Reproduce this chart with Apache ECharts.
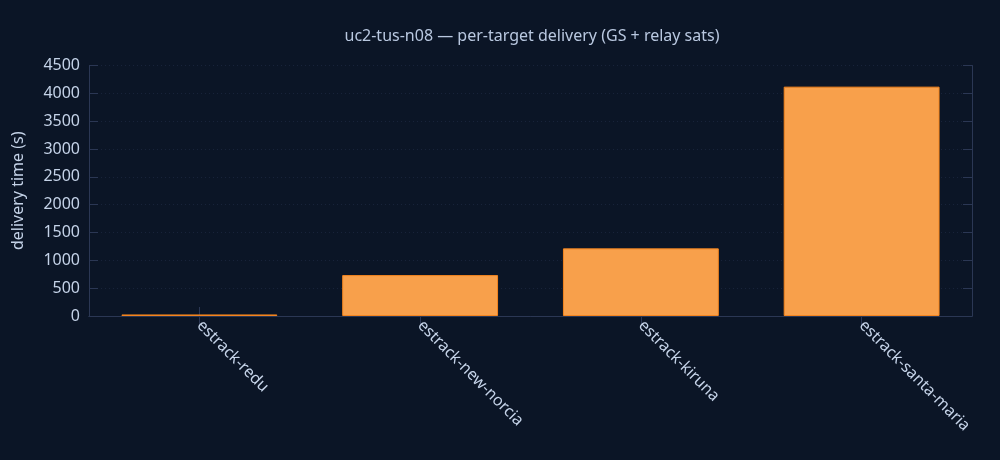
<!DOCTYPE html>
<html>
<head>
<meta charset="utf-8">
<script src="https://cdn.jsdelivr.net/npm/echarts@6/dist/echarts.min.js"></script>
<style>
html,body{margin:0;padding:0;background:#0b1526;}
#chart{width:1000px;height:460px;}
</style>
</head>
<body>
<div id="chart"></div>
<script>
var titleText = 'uc2-tus-n08 \u2014 per-target delivery (GS + relay sats)';
var categories = ['estrack-redu', 'estrack-new-norcia', 'estrack-kiruna', 'estrack-santa-maria'];
var deliveryTimes = [28, 735, 1215, 4120];
var yAxisName = 'delivery time (s)';

var font = '"Noto Sans", "Open Sans", sans-serif';
var textColor = '#c5d3e8';
var axisColor = '#2b3754';
var chart = echarts.init(document.getElementById('chart'));
var tickCommon = {show: true, inside: true, length: 9, lineStyle: {color: axisColor}};
chart.setOption({
  backgroundColor: '#0b1526',
  textStyle: {fontFamily: font},
  title: {
    text: titleText,
    left: 527,
    top: 23,
    textAlign: 'center',
    textStyle: {color: '#b9c8e0', fontSize: 16, fontWeight: 'normal', fontFamily: font}
  },
  grid: {left: 89, right: 28, top: 65.5, bottom: 144, containLabel: false},
  xAxis: [{
    type: 'category',
    data: categories,
    position: 'bottom',
    axisLine: {show: true, lineStyle: {color: axisColor}},
    axisTick: Object.assign({alignWithLabel: true}, tickCommon),
    axisLabel: {rotate: -45, color: textColor, fontSize: 16, fontFamily: font, margin: 7},
    splitLine: {show: false}
  }, {
    type: 'category',
    data: categories,
    position: 'top',
    axisLine: {show: true, lineStyle: {color: axisColor}},
    axisTick: Object.assign({alignWithLabel: true}, tickCommon),
    axisLabel: {show: false},
    splitLine: {show: false}
  }],
  yAxis: [{
    type: 'value',
    min: 0, max: 4500, interval: 500,
    position: 'left',
    name: yAxisName,
    nameLocation: 'middle',
    nameGap: 63,
    nameTextStyle: {color: textColor, fontSize: 16, fontFamily: font},
    axisLine: {show: true, lineStyle: {color: axisColor}},
    axisTick: tickCommon,
    axisLabel: {color: textColor, fontSize: 16, fontFamily: font, margin: 9, formatter: function (v) { return String(v); }},
    splitLine: {show: true, lineStyle: {color: '#18233a', type: [1, 3], width: 1}}
  }, {
    type: 'value',
    min: 0, max: 4500, interval: 500,
    position: 'right',
    axisLine: {show: true, lineStyle: {color: axisColor}},
    axisTick: tickCommon,
    axisLabel: {show: false},
    splitLine: {show: false}
  }],
  series: [{
    type: 'bar',
    data: deliveryTimes,
    barWidth: '70.6%',
    itemStyle: {color: '#f8a04b', borderColor: '#f5851e', borderWidth: 1},
    animation: false
  }]
});
</script>
</body>
</html>
